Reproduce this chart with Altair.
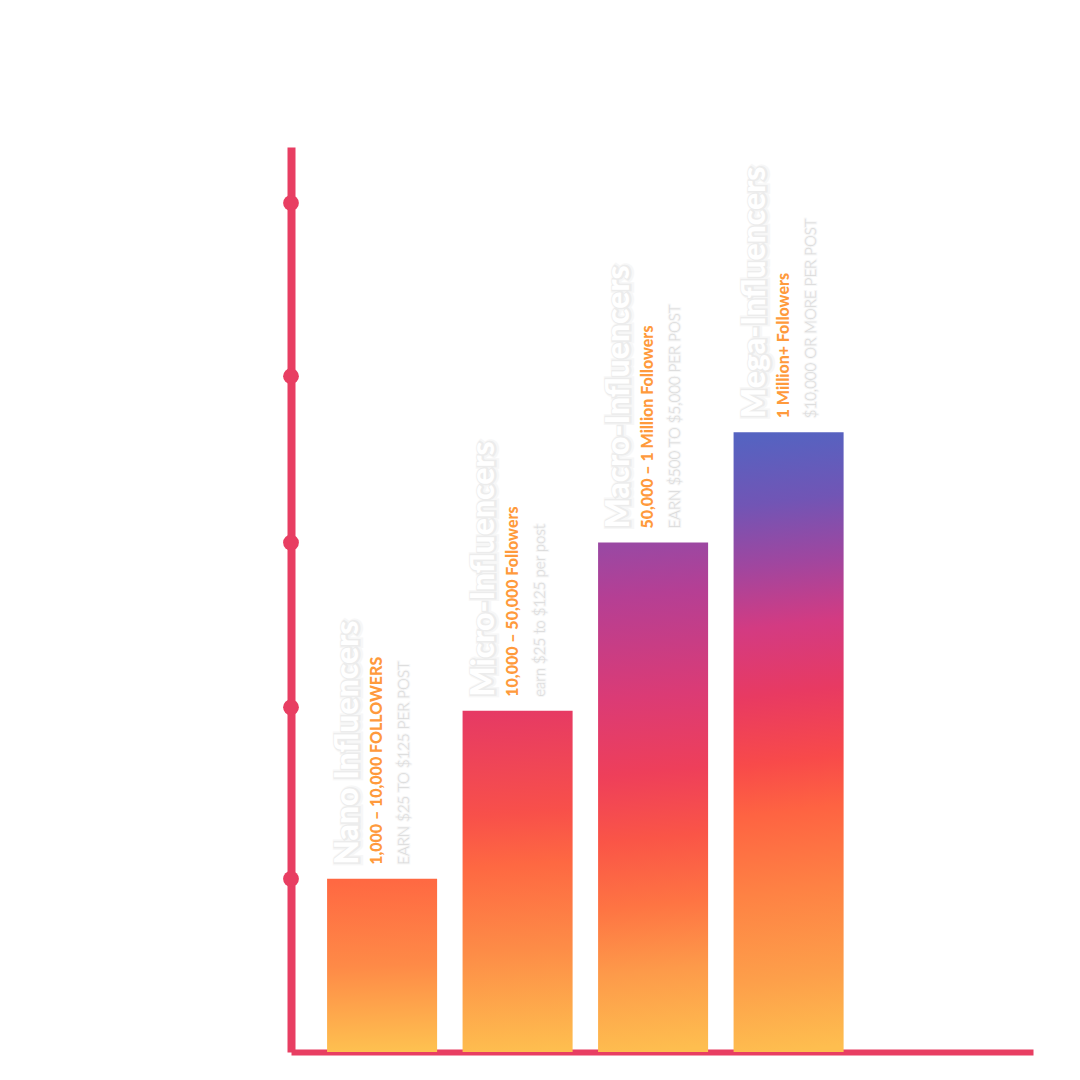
import altair as alt
import pandas as pd

# ---- data ----
categories = ["Nano", "Micro", "Macro", "Mega"]
levels = [1.02, 2.01, 3.0, 3.65]
titles = ["Nano Influencers", "Micro-Influencers", "Macro-Influencers", "Mega-Influencers"]
followers = ["1,000 – 10,000 FOLLOWERS", "10,000 – 50,000 Followers",
             "50,000 – 1 Million Followers", "1 Million+ Followers"]
earnings = ["EARN $25 TO $125 PER POST", "earn $25 to $125 per post",
            "EARN $500 TO $5,000 PER POST", "$10,000 OR MORE PER POST"]
axis_marks = [1.02, 2.03, 3.0, 3.98, 5.0]
y_max = 5.33

# ---- styles ----
RED = "#E83E62"
gradients = {
    "Nano": [(0, "#FF6842"), (0.5, "#FE8A47"), (1, "#FEC150")],
    "Micro": [(0, "#E63A64"), (0.3, "#F8504A"), (0.45, "#FE6842"), (0.7, "#FD8C47"), (1, "#FEBE4F")],
    "Macro": [(0, "#9A48A3"), (0.1, "#B53F94"), (0.3, "#DB3B75"), (0.45, "#EE3F5A"),
              (0.58, "#FA5547"), (0.71, "#FE7443"), (0.84, "#FD9A4A"), (1, "#FEBE4F")],
    "Mega": [(0, "#5563C1"), (0.11, "#7155B5"), (0.21, "#A0469F"), (0.31, "#D33B82"),
             (0.42, "#E83A62"), (0.53, "#F84A4A"), (0.61, "#FE6342"), (0.74, "#FE8244"),
             (0.88, "#FD9F4A"), (1, "#FEBE4F")],
}

df = pd.DataFrame({"cat": categories, "val": levels, "title": titles,
                   "fol": followers, "earn": earnings})
dots = pd.DataFrame({"v": axis_marks})

W, H = 742, 905

x_enc = alt.X("cat:N", sort=categories,
              scale=alt.Scale(paddingInner=0.188, paddingOuter=0.832, align=0.16),
              axis=alt.Axis(labels=False, ticks=False, title=None, grid=False,
                            domain=True, domainColor=RED, domainWidth=6))
y_scale = alt.Scale(domain=[0, y_max], nice=False, zero=True)
y_axis = alt.Axis(labels=False, ticks=False, title=None, grid=False,
                  domain=True, domainColor=RED, domainWidth=8)
y_enc = alt.Y("val:Q", scale=y_scale, axis=y_axis)

layers = []
for c in categories:
    stops = [alt.GradientStop(offset=o, color=col) for o, col in gradients[c]]
    grad = alt.LinearGradient(gradient="linear", stops=stops, x1=0.49, y1=0, x2=0.51, y2=1)
    layers.append(
        alt.Chart(df).transform_filter(alt.datum.cat == c)
        .mark_bar(color=grad).encode(x=x_enc, y=y_enc)
    )

dots_layer = alt.Chart(dots).mark_circle(size=250, color=RED, opacity=1).encode(
    x=alt.value(0), y=alt.Y("v:Q", scale=y_scale, axis=y_axis)
)

base = alt.Chart(df).encode(x=x_enc, y=y_enc)
common = dict(angle=270, align="left", baseline="alphabetic", font="Lato")
tstyle = dict(dx=14, fontSize=32, fontWeight=900)

title_halo1 = base.mark_text(**common, **tstyle, dy=-22, color="#E2E2E2", stroke="#E2E2E2",
                             strokeWidth=6, opacity=0.25).encode(text="title:N")
title_halo2 = base.mark_text(**common, **tstyle, dy=-23, color="#D4D4D4", stroke="#D8D8D8",
                             strokeWidth=3, opacity=0.35).encode(text="title:N")
title_text = base.mark_text(**common, **tstyle, dy=-24,
                            color="#FFFFFF").encode(text="title:N")
fol_text = base.mark_text(**common, dx=14, dy=0, fontSize=16, fontWeight=900,
                          color="#FF9A3C").encode(text="fol:N")
earn_halo = base.mark_text(**common, dx=14, dy=27, fontSize=15, fontWeight=300,
                           color="#EEEEEE", stroke="#EEEEEE", strokeWidth=2,
                           opacity=0.5).encode(text="earn:N")
earn_text = base.mark_text(**common, dx=14, dy=27, fontSize=15, fontWeight=300,
                           color="#DADADA").encode(text="earn:N")

chart = alt.layer(*layers, dots_layer, title_halo1, title_halo2, title_text, fol_text,
                  earn_halo, earn_text).properties(
    width=W, height=H,
    autosize=alt.AutoSizeParams(type="none"),
    padding={"left": 291, "top": 147, "right": 20, "bottom": 20},
    background="white",
).configure_view(stroke=None)

chart.save("out.html", embed_options={"renderer": "svg", "actions": False})
